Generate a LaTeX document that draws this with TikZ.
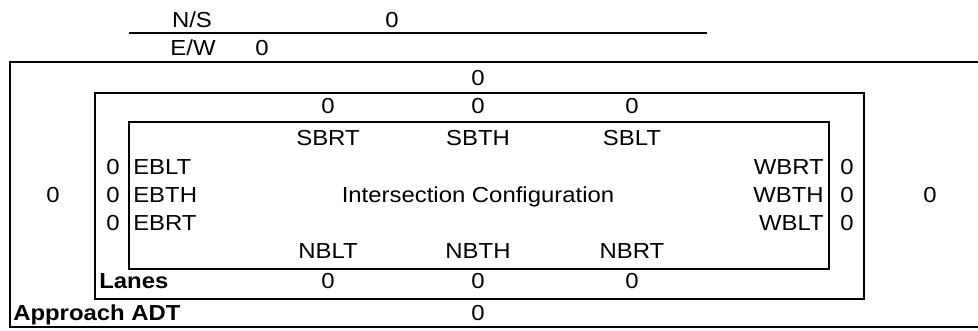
\documentclass[tikz,border=0pt]{standalone}
\usepackage{fontspec}
\setmainfont[FakeStretch=1.1]{Liberation Sans}
\begin{document}
\begin{tikzpicture}[x=0.75pt,y=-0.75pt,
  lbl/.style={inner sep=0pt, anchor=base, font=\fontsize{16.3}{19}\selectfont},
  lblL/.style={lbl, anchor=base west},
  lblR/.style={lbl, anchor=base east},
  bold/.style={font=\fontsize{16.3}{19}\selectfont\bfseries},
  rule/.style={line width=2pt, line cap=rect}]
\useasboundingbox (0,0) rectangle (978,330);
% frames
\draw[rule] (130,33) -- (706,33);
\draw[rule] (978,62) -- (10,62) -- (10,327) -- (978,327);
\draw[rule] (95,93) rectangle (864,299);
\draw[rule] (129,122) rectangle (829,269);
% header
\node[lbl] (ns) at (192,27) {N/S};
\node[lbl] (nsv) at (392,27) {0};
\node[lbl] (ew) at (193,55) {E/W};
\node[lbl] (ewv) at (262,55) {0};
% outer totals
\node[lbl] (adtS) at (478,85) {0};
\node[lbl] (adtW) at (53,202) {0};
\node[lbl] (adtE) at (930,202) {0};
\node[lbl] (adtN) at (478,320) {0};
\node[lblL,bold] (adtlbl) at (13,320) {Approach ADT};
% lanes south
\node[lbl] (lsr) at (328,113) {0};
\node[lbl] (lst) at (478,113) {0};
\node[lbl] (lsl) at (632,113) {0};
\node[lbl] (sbrt) at (328,145) {SBRT};
\node[lbl] (sbth) at (478,145) {SBTH};
\node[lbl] (sblt) at (632,145) {SBLT};
% east side
\node[lbl] (lel) at (113,174) {0};
\node[lbl] (let) at (113,202) {0};
\node[lbl] (ler) at (113,230) {0};
\node[lblL] (eblt) at (133,174) {EBLT};
\node[lblL] (ebth) at (133,202) {EBTH};
\node[lblL] (ebrt) at (133,230) {EBRT};
% west side
\node[lblR] (wbrt) at (824,174) {WBRT};
\node[lblR] (wbth) at (824,202) {WBTH};
\node[lblR] (wblt) at (824,230) {WBLT};
\node[lbl] (lwr) at (847,174) {0};
\node[lbl] (lwt) at (847,202) {0};
\node[lbl] (lwl) at (847,230) {0};
% centre
\node[lbl] (title) at (478,202) {Intersection Configuration};
% north
\node[lbl] (nblt) at (328,258) {NBLT};
\node[lbl] (nbth) at (478,258) {NBTH};
\node[lbl] (nbrt) at (632,258) {NBRT};
\node[lblL,bold] (laneslbl) at (99,288) {Lanes};
\node[lbl] (lnl) at (328,288) {0};
\node[lbl] (lnt) at (478,288) {0};
\node[lbl] (lnr) at (632,288) {0};
\end{tikzpicture}
\end{document}
